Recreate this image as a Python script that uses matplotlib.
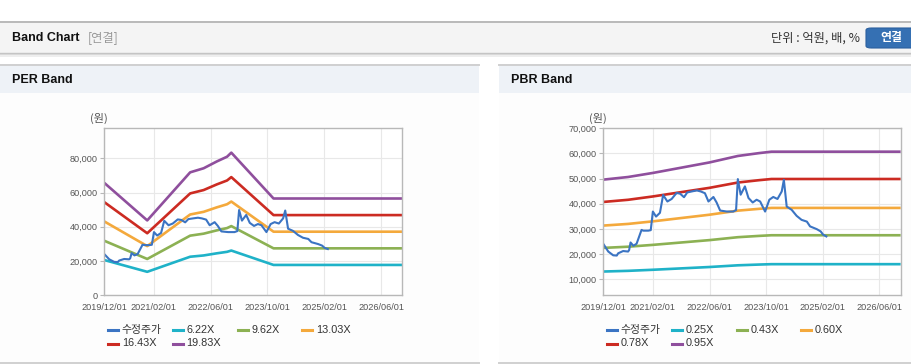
import numpy as np
import matplotlib
matplotlib.use("Agg")
import matplotlib.pyplot as plt
from matplotlib.lines import Line2D
from matplotlib.patches import Rectangle, FancyBboxPatch

plt.rcParams['font.family'] = ['Liberation Sans', 'Noto Sans CJK KR']

W, H = 912, 364

# x axis = months since 2019/12/01
tick_months = [0, 14, 30, 46, 62, 78]
tick_labels = ['2019/12/01', '2021/02/01', '2022/06/01', '2023/10/01', '2025/02/01', '2026/06/01']

# adjusted share price (수정주가)
price_month = [0, 1.4, 2.8, 3.8, 4.2, 5.6, 7.0, 7.3, 7.7, 8.5, 9.4, 10.8, 11.3, 12.7, 13.4,
               14.0, 14.9, 16.0, 16.9, 18.1, 19.3, 20.7, 21.7, 22.8, 23.7, 25.0, 26.4,
               27.5, 28.7, 29.7, 31.1, 32.0, 33.0, 34.9, 36.7, 37.5, 38.0, 38.8, 40.0,
               41.0, 42.2, 43.3, 44.3, 45.7, 46.9, 48.0, 49.2, 50.4, 51.0, 51.8, 53.2,
               54.6, 56.0, 57.5, 58.4, 60.3, 61.4, 62.1, 63.0]
price = [24060, 21000, 19500, 19400, 20300, 21200, 21000, 21600, 24600, 23300, 24100,
         29600, 29300, 29300, 29500, 36900, 34900, 36400, 43500, 40900, 41900, 44300,
         44000, 42600, 44500, 44900, 45300, 44900, 44200, 40900, 42700, 40500, 37300,
         36900, 36900, 37500, 49800, 43600, 46900, 42300, 40500, 41600, 40900, 36900,
         41600, 42700, 41900, 44900, 49500, 38900, 37600, 35200, 33600, 32900, 31000,
         29900, 29000, 27700, 27000]

# PER band: earnings per share times multiple
eps_month = [0, 12.1, 24.2, 28.0, 31.7, 34.6, 35.8, 47.7, 84]
eps = [3310, 2205, 3620, 3740, 3940, 4080, 4200, 2850, 2850]
per_mult = [6.22, 9.62, 13.03, 16.43, 19.83]
per_labels = ['6.22X', '9.62X', '13.03X', '16.43X', '19.83X']

# PBR band: book value per share times multiple
bps_month = [0, 7, 14, 22, 30, 38, 44, 47.5, 84]
bps = [52200, 53300, 55000, 57200, 59400, 62100, 63300, 63900, 63900]
pbr_mult = [0.25, 0.43, 0.60, 0.78, 0.95]
pbr_labels = ['0.25X', '0.43X', '0.60X', '0.78X', '0.95X']

price_color = '#3b74c3'
band_colors = ['#1fb2c8', '#8cb153', '#f4a93c', '#cc2b22', '#8f4f9d']


def fx(px):
    return px / W


def fy(py):
    return 1 - py / H


fig = plt.figure(figsize=(W / 100, H / 100), dpi=100)
fig.patch.set_facecolor('white')


def rect(x0, y0, x1, y1, color, z=-5):
    fig.add_artist(Rectangle((fx(x0), fy(y1)), fx(x1) - fx(x0), fy(y0) - fy(y1),
                             transform=fig.transFigure, facecolor=color,
                             edgecolor='none', zorder=z))


def hline(x0, x1, y, color, lw=1.0, z=-4):
    fig.add_artist(Line2D([fx(x0), fx(x1)], [fy(y), fy(y)], transform=fig.transFigure,
                          color=color, lw=lw, zorder=z))


# header bar
rect(0, 22, W, 53, '#f4f4f4')
hline(0, W, 22.3, '#b9b9b9', lw=1.4)
hline(0, W, 53, '#c4c4c4', lw=1.0)
rect(0, 53.5, W, 55, '#dedede')
rect(0, 55, W, 56.5, '#eeeeee')
fig.text(fx(12), fy(38), 'Band Chart', fontsize=9.0, fontweight='bold', color='#111111',
         va='center', ha='left')
fig.text(fx(88), fy(38), '[연결]', fontsize=8.8, color='#999999', va='center', ha='left',
         family=['Noto Sans CJK KR'])
fig.text(fx(860), fy(38), '단위 : 억원, 배, %', fontsize=8.8, color='#333333', va='center',
         ha='right', family=['Noto Sans CJK KR'])
fig.add_artist(FancyBboxPatch((fx(866), fy(48)), fx(60), fy(28) - fy(48),
                              boxstyle='round,pad=0,rounding_size=0.006',
                              transform=fig.transFigure, facecolor='#3570b3',
                              edgecolor='#2b5f9e', lw=0.8, zorder=-3))
fig.text(fx(891), fy(38), '연결', fontsize=8.6, fontweight='bold', color='white',
         va='center', ha='center', family=['Noto Sans CJK KR'])

# panels
for x0, x1, title in [(0, 479, 'PER Band'), (499, W, 'PBR Band')]:
    rect(x0, 64, x1, 92.5, '#eef2f7')
    rect(x0, 92.5, x1, 362, '#fdfdfd')
    hline(x0, x1, 64.5, '#d0d0d0', lw=1.4)
    hline(x0, x1, 362.5, '#d0d0d0', lw=1.4)
    fig.text(fx(x0 + 12), fy(80), title, fontsize=9.0, fontweight='bold', color='#111111',
             va='center', ha='left')


def draw_chart(left_px, right_px, ylim, yticks, band_month, base, mults, labels,
               unit_x, legend_x):
    ax = fig.add_axes([fx(left_px), fy(295.3), fx(right_px) - fx(left_px),
                       fy(128.3) - fy(295.3)])
    ax.set_facecolor('white')
    for m, c in zip(mults, band_colors):
        ax.plot(band_month, np.array(base) * m, color=c, lw=1.9, solid_capstyle='butt')
    ax.plot(price_month, price, color=price_color, lw=1.5)
    ax.set_xlim(0, 84)
    ax.set_ylim(*ylim)
    ax.set_xticks(tick_months)
    ax.set_xticklabels(tick_labels)
    ax.set_yticks(yticks)
    ax.set_yticklabels([f'{v:,}' for v in yticks])
    ax.grid(True, color='#e8e8e8', lw=0.8)
    ax.set_axisbelow(True)
    for s in ax.spines.values():
        s.set_color('#b8b8b8')
        s.set_linewidth(1.0)
    ax.tick_params(axis='x', length=0, pad=5.5, labelsize=6.6, labelcolor='#555555')
    ax.tick_params(axis='y', length=3, width=0.8, color='#b8b8b8', pad=2,
                   labelsize=6.6, labelcolor='#555555')
    fig.text(fx(unit_x), fy(118), '(원)', fontsize=8, color='#555555', ha='center',
             va='center', family=['Noto Sans CJK KR'])

    # legend
    names = ['수정주가'] + labels
    colors = [price_color] + band_colors
    rows = [330, 343.5]
    for i, (n, c) in enumerate(zip(names, colors)):
        r, col = divmod(i, 4)
        x = legend_x + 64.7 * col
        y = rows[r]
        fig.add_artist(Line2D([fx(x), fx(x + 10)], [fy(y), fy(y)],
                              transform=fig.transFigure, color=c, lw=2.2))
        fig.text(fx(x + 13.5), fy(y), n, fontsize=7.8, color='#333333',
                 ha='left', va='center')
    return ax


draw_chart(104.3, 402.3, (0, 97500), [0, 20000, 40000, 60000, 80000],
           eps_month, eps, per_mult, per_labels, 99, 108.3)
draw_chart(603.3, 900.7, (3600, 70000), [10000, 20000, 30000, 40000, 50000, 60000, 70000],
           bps_month, bps, pbr_mult, pbr_labels, 598, 607.3)

fig.savefig('out.png', dpi=100)
